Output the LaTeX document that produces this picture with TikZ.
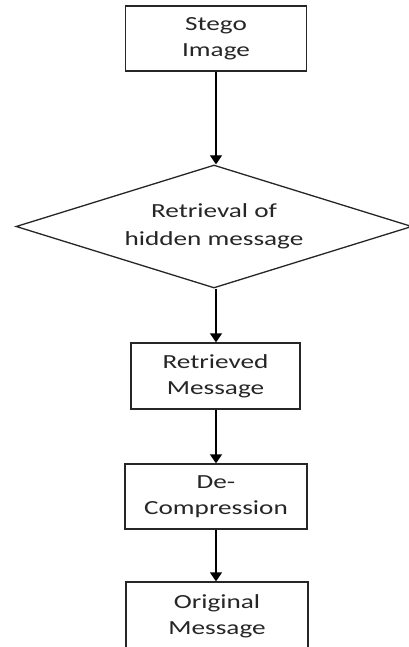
\documentclass[tikz,border=0pt]{standalone}
\usepackage{fontspec}
\setmainfont[FakeStretch=1.36]{Carlito}
\usetikzlibrary{shapes.geometric,arrows.meta}
\begin{document}
\begin{tikzpicture}[x=1pt,y=-1pt,
  box/.style={draw=black!85,line width=1.3pt,rectangle,align=center,inner sep=0pt,font=\fontsize{20}{26}\selectfont,text=black!85},
  dia/.style={draw=black!85,line width=1.3pt,diamond,aspect=3.22,align=center,inner sep=0pt,font=\fontsize{20}{28}\selectfont,text=black!85},
  arr/.style={draw=black,line width=1.3pt,-{Triangle[width=12pt,length=9pt]}}]
\useasboundingbox[fill=white] (0,0) rectangle (409,647);
\node[box,minimum width=181pt,minimum height=65pt] (stego) at (216,38.5) {Stego\\Image};
\node[dia,minimum width=396pt,minimum height=123pt] (retr) at (214,226.5) {Retrieval of\\hidden message};
\node[box,minimum width=169pt,minimum height=66pt] (rmsg) at (215.5,376) {Retrieved\\Message};
\node[box,minimum width=182pt,minimum height=65pt] (decomp) at (216,496.5) {De-\\Compression};
\node[box,minimum width=182pt,minimum height=68pt] (orig) at (217,616) {Original\\Message};
\draw[arr] (stego.south) -- (stego.south |- retr.north);
\draw[arr] (retr.south -| stego.south) -- (rmsg.north -| stego.south);
\draw[arr] (rmsg.south -| stego.south) -- (decomp.north -| stego.south);
\draw[arr] (decomp.south -| stego.south) -- (orig.north -| stego.south);
\end{tikzpicture}
\end{document}
